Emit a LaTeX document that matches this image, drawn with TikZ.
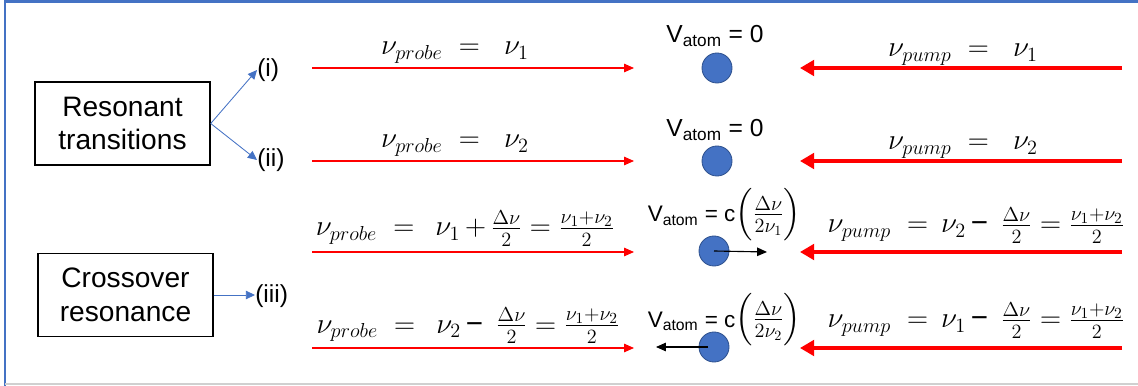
\documentclass[tikz,border=0pt]{standalone}
\usepackage{amsmath}
\usepackage[no-math]{fontspec}
\setmainfont{Liberation Sans}
\usetikzlibrary{arrows.meta}

\definecolor{offblue}{HTML}{4472C4}
\definecolor{atomedge}{HTML}{2F528F}
\definecolor{frameline}{HTML}{D0D0D0}

\newcommand{\dash}{\text{−}}

\begin{document}
\begin{tikzpicture}[x=0.025cm, y=-0.025cm,
    box/.style={draw, line width=1pt, minimum width=4.375cm, minimum height=2.075cm,
      align=center, font=\fontsize{20}{24}\selectfont},
    tag/.style={font=\fontsize{17.5}{20}\selectfont, inner sep=0pt},
    eqn/.style={font=\fontsize{21}{24}\selectfont, inner sep=0pt, anchor=base},
    vel/.style={inner sep=0pt, anchor=base},
    atom/.style={circle, fill=offblue, draw=atomedge, line width=0.6pt, minimum size=0.75cm, inner sep=0pt},
    probe/.style={red, line width=0.8pt, -{Triangle[length=7pt,width=6pt]}},
    pump/.style={red, line width=2.8pt, -{Triangle[length=10pt,width=11pt]}},
    drift/.style={black, line width=0.8pt, -{Triangle[length=7pt,width=6pt]}},
    branch/.style={offblue, line width=0.6pt, -{Triangle[length=6.5pt,width=6pt]}}]
    \useasboundingbox (0,0) rectangle (1138,386);

    % frame
    \draw[offblue, line width=1.5pt] (5,386) -- (5,1.5) -- (1138,1.5);
    \draw[frameline, line width=1pt] (5,384) -- (1138,384);

    % boxes and tags
    \node[box] (res) at (122.5,123.5) {Resonant\\transitions};
    \node[box] (cross) at (125.5,295) {Crossover\\resonance};
    \node[tag, anchor=west] (ti) at (257,70) {(i)};
    \node[tag, anchor=west] (tii) at (257,160) {(ii)};
    \node[tag, anchor=west] (tiii) at (255,296) {(iii)};
    \draw[branch] (res.east) -- (ti.west);
    \draw[branch] (res.east) -- (tii.west);
    \draw[branch] (cross.east) -- (cross.east -| tiii.west);

    % atoms
    \node[atom] (a1) at (717,68) {};
    \node[atom] (a2) at (717,161) {};
    \node[atom] (a3) at (714,251) {};
    \node[atom] (a4) at (714,347) {};
    \coordinate (m3) at (767,252);
    \coordinate (m4) at (656,347);
    \draw[drift] (a3.center) -- (m3);
    \draw[drift] ([xshift=-0.15cm]a4.center) -- (m4);

    % beam ends
    \foreach \n/\y in {1/68, 2/161, 3/252, 4/348} {
      \coordinate (ps\n) at (312,\y);
      \coordinate (pe\n) at (634,\y);
      \coordinate (us\n) at (1122,\y);
      \coordinate (ue\n) at (800,\y);
      \draw[probe] (ps\n) -- (pe\n);
      \draw[pump] (us\n) -- (ue\n);
    }

    % labels
    \node[eqn] (lp1) at (455,55) {$\nu_{probe} \;=\;\; \nu_1$};
    \node[eqn] (lp2) at (455,148) {$\nu_{probe} \;=\;\; \nu_2$};
    \node[eqn] (lu1) at (963,57) {$\nu_{pump} \;=\;\; \nu_1$};
    \node[eqn] (lu2) at (963,150) {$\nu_{pump} \;=\;\; \nu_2$};
    \node[eqn] (lp3) at (465,236) {$\nu_{probe} \;=\;\, \nu_1\,{+}\, \frac{\Delta\nu}{2} = \frac{\nu_1+\nu_2}{2}$};
    \node[eqn] (lp4) at (468,333) {$\nu_{probe} \;=\;\, \nu_2\,\dash\;\, \frac{\Delta\nu}{2} = \frac{\nu_1+\nu_2}{2}$};
    \node[eqn] (lu3) at (976,233) {$\nu_{pump} \;=\, \nu_2\,\dash\;\, \frac{\Delta\nu}{2} = \frac{\nu_1+\nu_2}{2}$};
    \node[eqn] (lu4) at (976,328) {$\nu_{pump} \;=\, \nu_1\,\dash\;\, \frac{\Delta\nu}{2} = \frac{\nu_1+\nu_2}{2}$};
    \node[vel, font=\fontsize{17.5}{21}\selectfont] (v1) at (715,43) {V\textsubscript{atom} = 0};
    \node[vel, font=\fontsize{17.5}{21}\selectfont] (v2) at (715,137) {V\textsubscript{atom} = 0};
    \node[vel, font=\fontsize{16}{19}\selectfont] (v3) at (724.5,222)
      {V\textsubscript{atom} = c{\fontsize{20}{22}\selectfont$\left(\frac{\Delta\nu}{2\nu_1}\right)$}};
    \node[vel, font=\fontsize{16}{19}\selectfont] (v4) at (724.5,327)
      {V\textsubscript{atom} = c{\fontsize{20}{22}\selectfont$\left(\frac{\Delta\nu}{2\nu_2}\right)$}};
\end{tikzpicture}
\end{document}
